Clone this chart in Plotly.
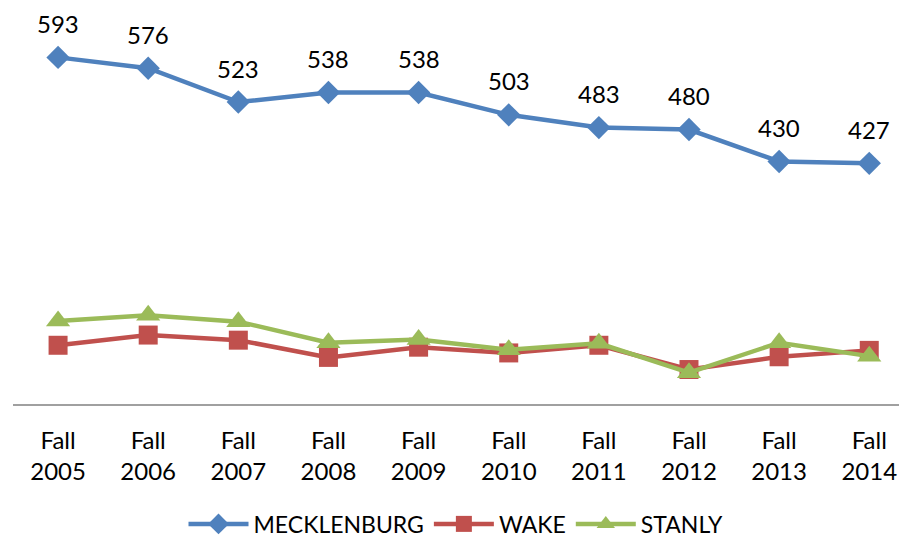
import plotly.graph_objects as go

years = ['Fall<br>2005', 'Fall<br>2006', 'Fall<br>2007', 'Fall<br>2008', 'Fall<br>2009',
         'Fall<br>2010', 'Fall<br>2011', 'Fall<br>2012', 'Fall<br>2013', 'Fall<br>2014']
mecklenburg = [593, 576, 523, 538, 538, 503, 483, 480, 430, 427]
wake = [142, 158, 150, 123, 139, 130, 142, 104, 124, 134]
stanly = [180, 189, 179, 146, 151, 135, 145, 99, 146, 125]

font = "Lato, sans-serif"

fig = go.Figure()
fig.add_trace(go.Scatter(x=years, y=mecklenburg, name='MECKLENBURG', mode='lines+markers',
                         line=dict(color='#4F81BD', width=4.5),
                         marker=dict(symbol='diamond', size=18, color='#4F81BD')))
fig.add_trace(go.Scatter(x=years, y=wake, name='WAKE', mode='lines+markers',
                         line=dict(color='#C0504D', width=4.5),
                         marker=dict(symbol='square', size=19, color='#C0504D')))
fig.add_trace(go.Scatter(x=years, y=stanly, name='STANLY', mode='lines+markers',
                         line=dict(color='#9BBB59', width=4.5),
                         marker=dict(symbol='triangle-up', size=21, color='#9BBB59')))

# data labels above the Mecklenburg points
for x, v in zip(years, mecklenburg):
    fig.add_annotation(x=x, y=v, text=str(v), showarrow=False, yshift=34,
                       font=dict(size=24, color='black', family=font))

fig.update_layout(
    width=899, height=537,
    margin=dict(l=13, r=0, t=21, b=133, autoexpand=False),
    plot_bgcolor='white', paper_bgcolor='white',
    font=dict(family=font, size=24, color='black'),
    showlegend=True,
    legend=dict(orientation='h', x=0.5, xanchor='center', y=-0.257, yanchor='top',
                font=dict(size=23), itemwidth=60),
    xaxis=dict(range=[-0.5, 9.33], showline=True, linecolor='#A0A0A0', linewidth=2,
               ticks='outside', ticklen=14, tickcolor='rgba(0,0,0,0)', showgrid=False,
               automargin=False),
    yaxis=dict(range=[50, 650], visible=False, automargin=False),
)

# drop the default 8px page margin so the figure fills the window exactly
fig.write_html("out.html", config={'displayModeBar': False},
               post_script="document.body.style.margin='0';document.body.style.overflow='hidden';")
